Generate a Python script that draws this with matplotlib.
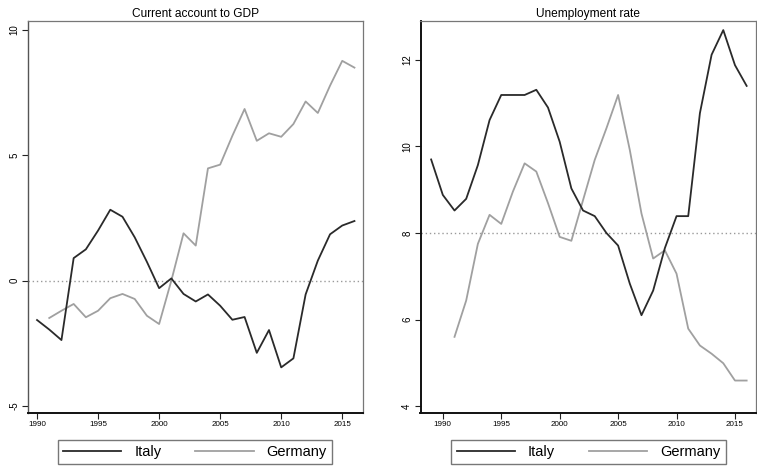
import matplotlib
matplotlib.use("Agg")
import matplotlib.pyplot as plt

plt.rcParams['font.family'] = ['Liberation Sans', 'DejaVu Sans']

years_ca_it = list(range(1990, 2017))
ca_italy = [-1.57, -1.95, -2.37, 0.9, 1.25, 2.0, 2.83, 2.55, 1.73, 0.75, -0.3, 0.09,
            -0.53, -0.83, -0.55, -1.0, -1.56, -1.45, -2.88, -1.97, -3.46, -3.1,
            -0.55, 0.8, 1.85, 2.2, 2.38]
years_ca_de = list(range(1991, 2017))
ca_germany = [-1.49, -1.2, -0.93, -1.46, -1.2, -0.7, -0.53, -0.73, -1.4, -1.73, 0.0,
              1.89, 1.4, 4.48, 4.63, 5.78, 6.85, 5.58, 5.88, 5.74, 6.25, 7.15, 6.69,
              7.78, 8.77, 8.5]

years_un_it = list(range(1989, 2017))
un_italy = [9.7, 8.88, 8.52, 8.79, 9.57, 10.61, 11.19, 11.19, 11.19, 11.31, 10.9,
            10.11, 9.03, 8.52, 8.39, 8.0, 7.71, 6.83, 6.1, 6.67, 7.65, 8.39, 8.39,
            10.77, 12.12, 12.69, 11.88, 11.4]
years_un_de = list(range(1991, 2017))
un_germany = [5.6, 6.44, 7.75, 8.42, 8.21, 8.96, 9.61, 9.42, 8.69, 7.91, 7.82, 8.76,
              9.69, 10.42, 11.19, 9.92, 8.45, 7.41, 7.6, 7.06, 5.79, 5.4, 5.21, 4.99,
              4.59, 4.59]

x_ticks = [1990, 1995, 2000, 2005, 2010, 2015]
italy_color = '#2a2a2a'
germany_color = '#a0a0a0'

W, H = 757, 468
fig = plt.figure(figsize=(W / 100, H / 100), dpi=100)

def px_axes(x0, x1, y0, y1):
    return fig.add_axes([x0 / W, 1 - y1 / H, (x1 - x0) / W, (y1 - y0) / H])

def style(ax, title, yticks, ref):
    ax.set_title(title, fontsize=8.6, pad=3)
    ax.axhline(ref, color='#9a9a9a', linestyle=(0, (1, 2)), linewidth=1.0, zorder=1)
    ax.set_xticks(x_ticks)
    ax.set_xticklabels([str(t) for t in x_ticks], fontsize=5.8)
    ax.set_yticks(yticks)
    ax.set_yticklabels([str(t) for t in yticks], fontsize=7, rotation=90, va='center')
    ax.tick_params(axis='both', length=4, width=0.8, color='#222222', pad=2)
    for s in ['top', 'right']:
        ax.spines[s].set_color('#777777')
        ax.spines[s].set_linewidth(0.9)
    for s in ['left', 'bottom']:
        ax.spines[s].set_color('#111111')
        ax.spines[s].set_linewidth(1.4)

ax1 = px_axes(28, 363, 21, 413)
l1, = ax1.plot(years_ca_it, ca_italy, color=italy_color, linewidth=1.3, label='Italy', zorder=3)
l2, = ax1.plot(years_ca_de, ca_germany, color=germany_color, linewidth=1.3, label='Germany', zorder=2)
ax1.set_xlim(1989.26, 2016.7)
ax1.set_ylim(-5.28, 10.36)
style(ax1, 'Current account to GDP', [-5, 0, 5, 10], 0)
ax1.spines['left'].set_color('#555555')
ax1.spines['left'].set_linewidth(1.0)

ax2 = px_axes(420.5, 756, 21, 413)
ax2.plot(years_un_it, un_italy, color=italy_color, linewidth=1.3, label='Italy', zorder=3)
ax2.plot(years_un_de, un_germany, color=germany_color, linewidth=1.3, label='Germany', zorder=2)
ax2.set_xlim(1988.09, 2016.8)
ax2.set_ylim(3.84, 12.9)
style(ax2, 'Unemployment rate', [4, 6, 8, 10, 12], 8)

for cx in (195 / W, 588.5 / W):
    leg = fig.legend(handles=[l1, l2], labels=['Italy', 'Germany'], loc='center',
                     bbox_to_anchor=(cx, 1 - 452 / H), ncol=2, fontsize=10.5,
                     frameon=True, fancybox=False, edgecolor='#555555',
                     handlelength=4.0, columnspacing=2.3, handletextpad=0.9,
                     borderpad=0.35, borderaxespad=0)
    leg.get_frame().set_linewidth(1.0)

fig.savefig('out.png', dpi=100, facecolor='white')
